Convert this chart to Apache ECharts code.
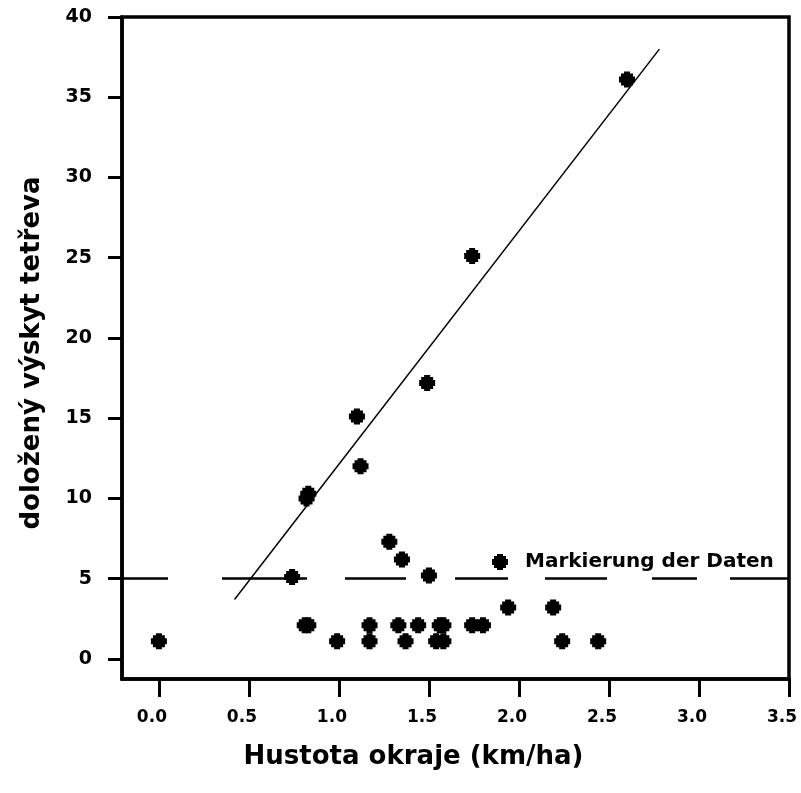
<!DOCTYPE html>
<html>
<head>
<meta charset="utf-8">
<script src="https://cdn.jsdelivr.net/npm/echarts@6.0.0/dist/echarts.min.js"></script>
<style>
  html, body { margin: 0; padding: 0; background: #fff; }
  #grafico { width: 801px; height: 793px; }
</style>
</head>
<body>
<div id="grafico"></div>
<script>
// hustota okraje (km/ha) vs. dolozeny vyskyt tetreva
const edgeDensity = [
  0.0, 0.74, 0.81, 0.83, 0.99, 1.17, 1.17, 1.33, 1.44, 1.37,
  1.56, 1.58, 1.54, 1.58, 1.74, 1.80, 1.94, 2.19, 2.24, 2.44,
  1.28, 1.35, 1.50, 1.10, 1.12, 0.83, 0.82, 1.49, 1.74, 2.60
]
const grouseCount = [
  1.1, 5.1, 2.1, 2.1, 1.1, 2.1, 1.1, 2.1, 2.1, 1.1,
  2.1, 2.1, 1.1, 1.1, 2.1, 2.1, 3.2, 3.2, 1.1, 1.1,
  7.3, 6.2, 5.2, 15.1, 12.0, 10.3, 10.0, 17.2, 25.1, 36.1
]
const fitLineX = [0.42, 2.78]
const fitLineY = [3.7, 38.0]
const thresholdY = 5
const xTicks = [0, 0.5, 1, 1.5, 2, 2.5, 3, 3.5]
const yTicks = [0, 5, 10, 15, 20, 25, 30, 35, 40]
const seriesName = 'Markierung der Daten'

const blob = 'path://M5,0H11V2H14V5H16V11H14V14H11V16H5V14H2V11H0V5H2V2H5Z'
const font = 'DejaVu Sans'

let myChart = echarts.init(document.getElementById('grafico'))

let points = edgeDensity.map((x, i) => [x, grouseCount[i]])
let fitLine = fitLineX.map((x, i) => [x, fitLineY[i]])

let option = {
  animation: false,
  backgroundColor: '#fff',
  grid: {
    left: 122,
    right: 12,
    top: 17,
    bottom: 114,
    show: true,
    borderColor: '#000',
    borderWidth: 3.5
  },
  legend: {
    data: [seriesName],
    left: 487,
    top: 547,
    itemWidth: 16,
    itemHeight: 16,
    icon: blob,
    selectedMode: false,
    itemStyle: { opacity: 1 },
    textStyle: {
      fontFamily: font,
      fontWeight: 'bold',
      fontSize: 20,
      color: '#000',
      padding: [0, 0, 0, 12]
    }
  },
  xAxis: {
    type: 'value',
    min: -0.205,
    max: 3.5,
    name: 'Hustota okraje (km/ha)',
    nameLocation: 'middle',
    nameGap: 65,
    nameTextStyle: {
      fontFamily: font,
      fontWeight: 'bold',
      fontSize: 26,
      color: '#000',
      padding: [0, 84, 0, 0]
    },
    axisLine: { onZero: false, lineStyle: { color: '#000', width: 3.5 } },
    axisTick: {
      customValues: xTicks,
      length: 18,
      lineStyle: { color: '#000', width: 3 }
    },
    axisLabel: {
      customValues: xTicks,
      formatter: v => v.toFixed(1),
      margin: 30,
      fontFamily: font,
      fontWeight: 'bold',
      fontSize: 17,
      color: '#000',
      padding: [0, 14, 0, 0]
    },
    splitLine: { show: false }
  },
  yAxis: {
    type: 'value',
    min: -1.25,
    max: 40,
    name: 'doložený výskyt tetřeva',
    nameLocation: 'middle',
    nameRotate: 90,
    nameGap: 77,
    nameTextStyle: {
      fontFamily: font,
      fontWeight: 'bold',
      fontSize: 26,
      color: '#000',
      padding: [0, 10, 0, 0]
    },
    axisLine: { onZero: false, lineStyle: { color: '#000', width: 3.5 } },
    axisTick: {
      customValues: yTicks,
      length: 14,
      lineStyle: { color: '#000', width: 3 }
    },
    axisLabel: {
      customValues: yTicks,
      margin: 30,
      fontFamily: font,
      fontWeight: 'bold',
      fontSize: 19,
      color: '#000'
    },
    splitLine: { show: false }
  },
  series: [
    {
      name: 'fit',
      type: 'line',
      data: fitLine,
      showSymbol: false,
      silent: true,
      z: 1,
      lineStyle: { color: '#000', width: 1.5 },
      markLine: {
        silent: true,
        symbol: 'none',
        label: { show: false },
        lineStyle: {
          color: '#000',
          width: 2.5,
          type: [46, 54, 85, 38, 61, 49, 53, 37, 62, 45, 45, 33, 59, 40]
        },
        data: [{ yAxis: thresholdY }]
      }
    },
    {
      name: seriesName,
      type: 'scatter',
      data: points,
      symbol: blob,
      symbolSize: 16,
      z: 3,
      itemStyle: { color: '#000', opacity: 1 },
      emphasis: { disabled: true }
    }
  ]
}

myChart.setOption(option)
</script>
</body>
</html>
